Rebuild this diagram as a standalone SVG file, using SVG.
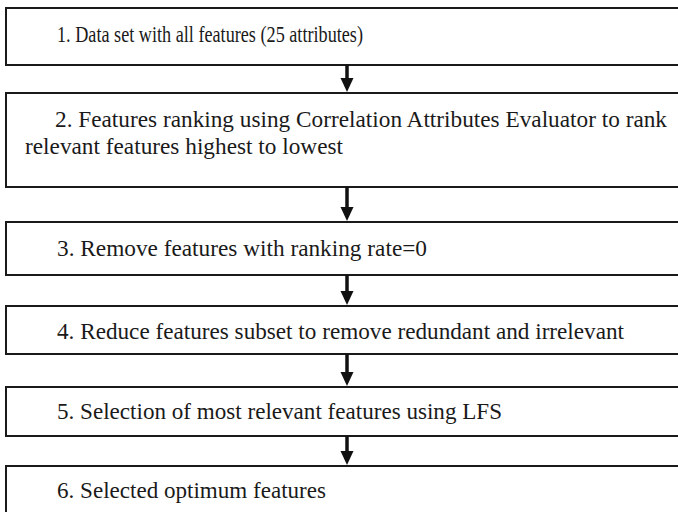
<svg xmlns="http://www.w3.org/2000/svg" width="678" height="512" viewBox="0 0 678 512">
<style>
.box{fill:#fff;stroke:#1a1a1a;stroke-width:2}
.t{font-family:"Liberation Serif","Times New Roman",serif;font-size:22.5px;fill:#1a1a1a}
.shaft{stroke:#111;stroke-width:3.5;fill:none}
.head{fill:#111}
</style>
<rect width="678" height="512" fill="#fff"/>
<g id="node1"><rect class="box" x="6" y="8" width="700" height="57"/><text class="t" x="57" y="42" textLength="306" lengthAdjust="spacingAndGlyphs">1. Data set with all features (25 attributes)</text></g>
<g id="node2"><rect class="box" x="6" y="93" width="700" height="94"/><text class="t" x="55" y="127" textLength="612" lengthAdjust="spacingAndGlyphs">2. Features ranking using Correlation Attributes Evaluator to rank</text><text class="t" x="25" y="154" textLength="318" lengthAdjust="spacingAndGlyphs">relevant features highest to lowest</text></g>
<g id="node3"><rect class="box" x="6" y="222" width="700" height="53"/><text class="t" x="57" y="256" textLength="370" lengthAdjust="spacingAndGlyphs">3. Remove features with ranking rate=0</text></g>
<g id="node4"><rect class="box" x="6" y="306" width="700" height="48"/><text class="t" x="57" y="339" textLength="567" lengthAdjust="spacingAndGlyphs">4. Reduce features subset to remove redundant and irrelevant</text></g>
<g id="node5"><rect class="box" x="6" y="387" width="700" height="49"/><text class="t" x="57" y="419" textLength="445" lengthAdjust="spacingAndGlyphs">5. Selection of most relevant features using LFS</text></g>
<g id="node6"><rect class="box" x="6" y="466" width="700" height="60"/><text class="t" x="57" y="498" textLength="269" lengthAdjust="spacingAndGlyphs">6. Selected optimum features</text></g>
<g id="connectors">
<line class="shaft" x1="347" y1="65" x2="347" y2="79"/><polygon class="head" points="340.5,78 353.5,78 347,92"/>
<line class="shaft" x1="347" y1="187" x2="347" y2="208"/><polygon class="head" points="340.5,207 353.5,207 347,221"/>
<line class="shaft" x1="347" y1="275" x2="347" y2="292"/><polygon class="head" points="340.5,291 353.5,291 347,305"/>
<line class="shaft" x1="347" y1="354" x2="347" y2="373"/><polygon class="head" points="340.5,372 353.5,372 347,386"/>
<line class="shaft" x1="347" y1="436" x2="347" y2="452"/><polygon class="head" points="340.5,451 353.5,451 347,465"/>
</g>
</svg>
